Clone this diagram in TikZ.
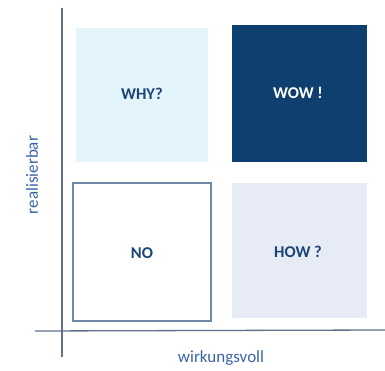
\documentclass[tikz,border=0pt]{standalone}
\usepackage{fontspec}
\setmainfont{Carlito}
\definecolor{navy}{HTML}{0F3F6E}
\definecolor{txtblue}{HTML}{1B4478}
\definecolor{lblblue}{HTML}{3A64A8}
\definecolor{cyanbg}{HTML}{E4F4FB}
\definecolor{lavbg}{HTML}{E7EBF5}
\definecolor{axisc}{HTML}{5F7088}
\definecolor{borderc}{HTML}{7088AA}
\begin{document}
\begin{tikzpicture}[x=1pt,y=-1pt,
  quad/.style={font=\bfseries\fontsize{16.5}{18}\selectfont},
  axlbl/.style={font=\fontsize{17}{19}\selectfont, text=lblblue}]
\useasboundingbox (0,0) rectangle (385,371);
\fill[white] (0,0) rectangle (385,371);
% quadrants
\fill[cyanbg] (76,28) rectangle (208,162);
\fill[navy] (232,25) rectangle (367,162);
\draw[borderc, line width=1.1pt, fill=white] (73,183) rectangle (211,321);
\fill[lavbg] (232,183) rectangle (367,318);
% texts
\node[quad, text=txtblue] (why) at (142,94) {WHY?};
\node[quad, text=white] (wow) at (298,93) {WOW !};
\node[quad, text=txtblue] (no) at (142,253) {NO};
\node[quad, text=txtblue] (how) at (298,252) {HOW ?};
% axes
\coordinate (vtop) at (62,8);
\coordinate (vbot) at (62,357);
\coordinate (hl) at (35,331);
\coordinate (hr) at (385,330);
\draw[axisc, line width=1.3pt] (vtop) -- (vbot);
\draw[axisc, line width=1.3pt] (hl) -- (hr);
\node[axlbl, rotate=90] (yl) at (32,175) {realisierbar};
\node[axlbl] (xl) at (221,358) {wirkungsvoll};
\end{tikzpicture}
\end{document}
